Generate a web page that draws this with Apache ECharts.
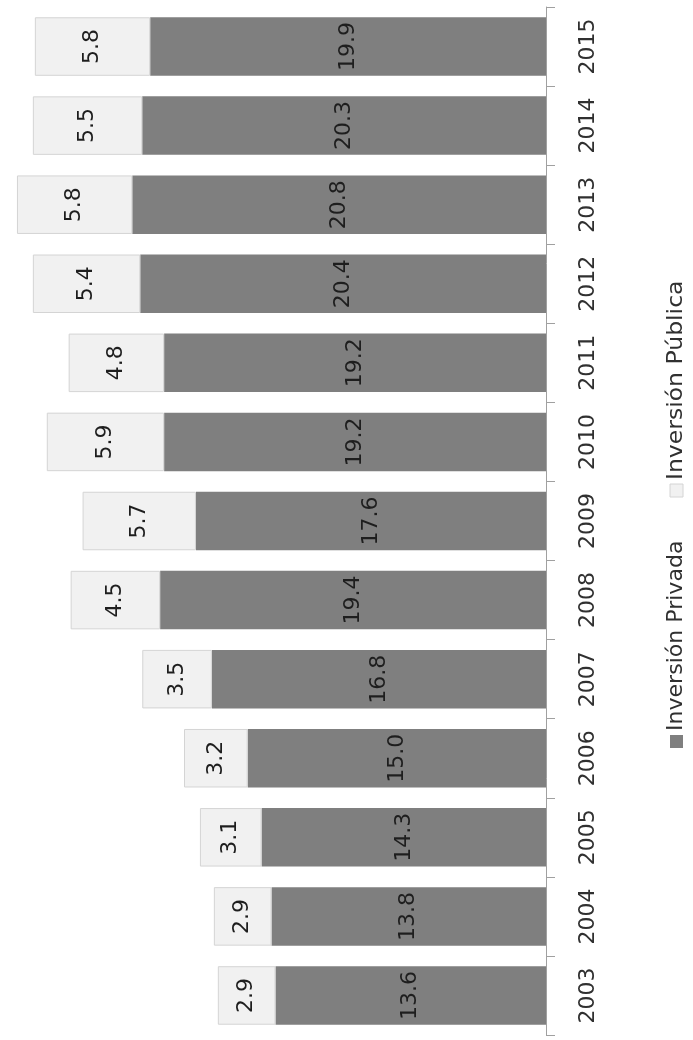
<!DOCTYPE html>
<html>
<head>
<meta charset="utf-8">
<style>
  html, body { margin: 0; padding: 0; background: #ffffff; }
  #chart { width: 693px; height: 1040px; }
</style>
<script src="https://cdn.jsdelivr.net/npm/echarts@6/dist/echarts.min.js"></script>
</head>
<body>
<div id="chart"></div>
<script>
// Inversión como % del PIB, 2003–2015
const years = ['2003', '2004', '2005', '2006', '2007', '2008', '2009', '2010', '2011', '2012', '2013', '2014', '2015'];
const privada = [13.6, 13.8, 14.3, 15.0, 16.8, 19.4, 17.6, 19.2, 19.2, 20.4, 20.8, 20.3, 19.9];
const publica = [2.9, 2.9, 3.1, 3.2, 3.5, 4.5, 5.7, 5.9, 4.8, 5.4, 5.8, 5.5, 5.8];
const seriesNames = ['Inversión Privada', 'Inversión Pública'];

const FONT = 'DejaVu Sans';
const colPrivada = '#7f7f7f';
const colPublica = '#f1f1f1';
const borderPublica = '#d4d4d4';
const textColor = '#303030';

const chart = echarts.init(document.getElementById('chart'), null, { renderer: 'canvas' });

const labelStyle = {
  show: true,
  position: 'inside',
  rotate: 90,
  fontFamily: FONT,
  fontSize: 22,
  color: '#1e1e1e',
  formatter: p => p.value.toFixed(1)
};

// legend entries, drawn rotated so they read bottom-to-top like the rest of the chart
const legendFont = '21px "DejaVu Sans"';

chart.setOption({
  animation: false,
  backgroundColor: '#ffffff',
  grid: { left: 9, right: 147, top: 7, bottom: 5, outerBoundsMode: 'none' },
  xAxis: {
    type: 'value',
    inverse: true,
    min: 0,
    max: 27,
    show: false
  },
  yAxis: {
    type: 'category',
    position: 'right',
    data: years,
    axisLine: { show: true, lineStyle: { color: '#a0a0a0', width: 1 } },
    axisTick: { show: true, length: 9, lineStyle: { color: '#a0a0a0' } },
    axisLabel: {
      rotate: 90,
      margin: 31,
      fontFamily: FONT,
      fontSize: 22,
      color: textColor
    },
    splitLine: { show: false }
  },
  series: [
    {
      name: seriesNames[0],
      type: 'bar',
      stack: 'inv',
      data: privada,
      barCategoryGap: '26%',
      itemStyle: { color: colPrivada },
      label: labelStyle
    },
    {
      name: seriesNames[1],
      type: 'bar',
      stack: 'inv',
      data: publica,
      itemStyle: { color: colPublica, borderColor: borderPublica, borderWidth: 1 },
      label: labelStyle
    }
  ],
  graphic: [
    {
      type: 'group',
      x: 677,
      y: 748,
      rotation: Math.PI / 2,
      children: [
        { type: 'rect', shape: { x: 0, y: -7, width: 13, height: 13 }, style: { fill: colPrivada } },
        { type: 'text', x: 17, y: 0, scaleX: 1.05, style: { text: seriesNames[0], font: legendFont, fill: textColor, verticalAlign: 'middle', align: 'left' } },
        { type: 'rect', shape: { x: 251, y: -7, width: 13, height: 13 }, style: { fill: colPublica, stroke: borderPublica, lineWidth: 1 } },
        { type: 'text', x: 268, y: 0, scaleX: 1.12, style: { text: seriesNames[1], font: legendFont, fill: textColor, verticalAlign: 'middle', align: 'left' } }
      ]
    }
  ]
});
</script>
</body>
</html>
